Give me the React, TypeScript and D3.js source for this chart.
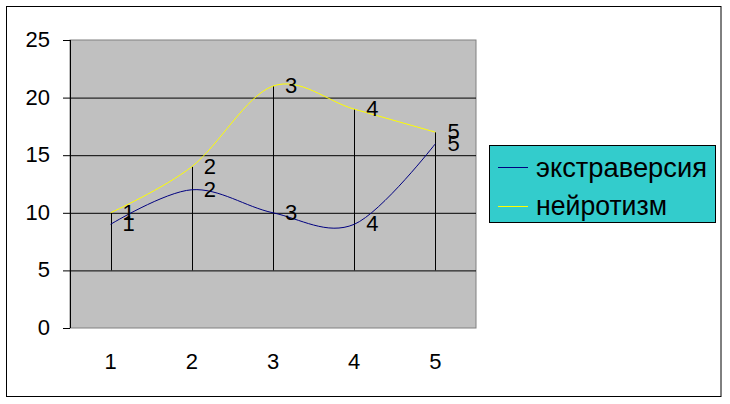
import React from "react";
import * as d3 from "d3";

const categories = ["1", "2", "3", "4", "5"];
const extraversion = [9, 12, 10, 9, 16];
const neuroticism = [10, 14, 21, 19, 17];
const yTicks = [0, 5, 10, 15, 20, 25];
const seriesNames = ["экстраверсия", "нейротизм"];
const seriesColors = ["#000080", "#FFFF00"];

export default function App() {
  const W = 730, H = 404;
  const plot = { left: 70, right: 476, top: 40, bottom: 328 };
  const x = d3.scaleBand<string>().domain(categories).range([plot.left, plot.right]);
  const y = d3.scaleLinear().domain([0, 25]).range([plot.bottom, plot.top]);
  const cx = (c: string) => (x(c) as number) + x.bandwidth() / 2;
  const series = [extraversion, neuroticism];
  const line = d3
    .line<number>()
    .x((_, i) => cx(categories[i]))
    .y((d) => y(d))
    .curve(d3.curveCardinal.tension(0));
  const font = "Arial, 'Liberation Sans', sans-serif";
  const fs = 22;
  const legendLens = [171, 131];

  return (
    <svg
      width={W}
      height={H}
      style={{ position: "absolute", left: 0, top: 0, background: "#fff" }}
      fontFamily={font}
    >
      <rect x={6.5} y={6.5} width={714.5} height={390} fill="#fff" stroke="#000" strokeWidth={1} />
      <rect
        x={plot.left}
        y={plot.top}
        width={plot.right - plot.left}
        height={plot.bottom - plot.top}
        fill="#C0C0C0"
        stroke="#808080"
        strokeWidth={1}
      />
      {yTicks.filter((t) => t > 0 && t < 25).map((t) => (
        <line key={"g" + t} x1={plot.left} x2={plot.right} y1={y(t) + 0.5} y2={y(t) + 0.5} stroke="#000" />
      ))}
      {categories.map((c, i) => (
        <line
          key={"d" + c}
          x1={Math.round(cx(c)) + 0.5}
          x2={Math.round(cx(c)) + 0.5}
          y1={y(5)}
          y2={y(Math.max(extraversion[i], neuroticism[i]))}
          stroke="#000"
        />
      ))}
      <line x1={plot.left + 0.5} x2={plot.left + 0.5} y1={plot.top} y2={plot.bottom} stroke="#000" />
      {yTicks.map((t) => (
        <g key={"t" + t}>
          <line x1={63} x2={plot.left} y1={y(t) + 0.5} y2={y(t) + 0.5} stroke="#000" />
          <text x={50} y={y(t) + 7} textAnchor="end" fontSize={fs} fill="#000">
            {t}
          </text>
        </g>
      ))}
      {categories.map((c) => (
        <text key={"x" + c} x={cx(c)} y={369} textAnchor="middle" fontSize={fs} fill="#000">
          {c}
        </text>
      ))}
      {series.map((s, k) => (
        <path key={"s" + k} d={line(s) as string} fill="none" stroke={seriesColors[k]} strokeWidth={1} />
      ))}
      {series.map((s, k) =>
        s.map((v, i) => (
          <text
            key={"l" + k + i}
            x={cx(categories[i]) + 12}
            y={y(v) + 7}
            fontSize={fs}
            fill="#000"
          >
            {categories[i]}
          </text>
        ))
      )}
      <rect x={489.5} y={145.5} width={226} height={77} fill="#33CCCC" stroke="#000" strokeWidth={1} />
      {seriesNames.map((n, k) => {
        const ly = k === 0 ? 167.5 : 206.5;
        const base = k === 0 ? 177 : 215;
        return (
          <g key={"lg" + k}>
            <line x1={498} x2={528} y1={ly} y2={ly} stroke={seriesColors[k]} />
            <text
              x={536}
              y={base}
              fontSize={28}
              textLength={legendLens[k]}
              lengthAdjust="spacingAndGlyphs"
              fill="#000"
            >
              {n}
            </text>
          </g>
        );
      })}
    </svg>
  );
}
